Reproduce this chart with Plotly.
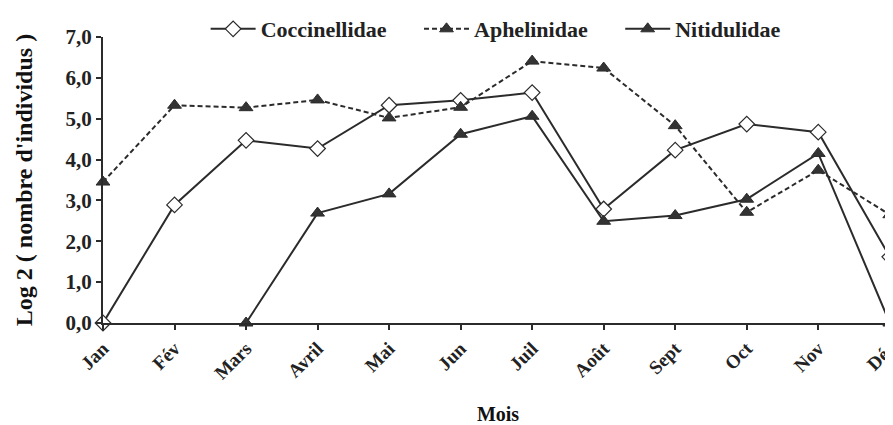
import plotly.graph_objects as go

mois = ["Jan", "Fév", "Mars", "Avril", "Mai", "Jun", "Juil", "Août", "Sept", "Oct", "Nov", "Déc"]
coccinellidae = [0.0, 2.89, 4.47, 4.27, 5.33, 5.45, 5.64, 2.79, 4.23, 4.87, 4.67, 1.62]
aphelinidae = [3.45, 5.33, 5.27, 5.46, 5.02, 5.28, 6.41, 6.24, 4.83, 2.71, 3.74, 2.65]
nitidulidae = [None, None, 0.0, 2.69, 3.16, 4.62, 5.06, 2.49, 2.63, 3.03, 4.15, 0.0]
y_ticks = [0, 1, 2, 3, 4, 5, 6, 7]

ink = "#2b2b2b"
font_main = "Liberation Serif"
gap = "&nbsp;" * 5

fig = go.Figure()
fig.add_trace(go.Scatter(
    x=mois, y=coccinellidae, name="<b>Coccinellidae</b>" + gap, mode="lines+markers",
    line=dict(color=ink, width=2),
    marker=dict(symbol="diamond", size=12, color="white", line=dict(color=ink, width=1.2)),
    cliponaxis=False,
))
fig.add_trace(go.Scatter(
    x=mois, y=aphelinidae, name="<b>Aphelinidae</b>" + gap, mode="lines+markers",
    line=dict(color=ink, width=2, dash="5px,3px"),
    marker=dict(symbol="triangle-up", size=12, color="#333333", line=dict(color=ink, width=1)),
    cliponaxis=False,
))
fig.add_trace(go.Scatter(
    x=mois, y=nitidulidae, name="<b>Nitidulidae</b>", mode="lines+markers",
    line=dict(color=ink, width=2),
    marker=dict(symbol="triangle-up", size=12, color="#333333", line=dict(color=ink, width=1)),
    cliponaxis=False, connectgaps=False,
))

# page body has an 8px margin, so the figure is drawn 8px smaller;
# top margin is 0 and the y domain leaves room for the legend so it does not push the plot
plot_h = 417 - 102
fig.update_layout(
    width=885, height=417,
    margin=dict(l=95, r=0, t=0, b=102),
    paper_bgcolor="white", plot_bgcolor="white",
    font=dict(family=font_main, color="#222222", size=14),
    legend=dict(
        orientation="h", x=0.497, xanchor="center",
        y=1.0, yanchor="top",
        font=dict(family=font_main, size=22, color="#222222"),
        itemwidth=45, tracegroupgap=0, bgcolor="rgba(0,0,0,0)",
    ),
)
fig.update_xaxes(
    type="category", range=[0, 11.045], automargin=False,
    showline=True, linecolor=ink, linewidth=2, showgrid=False, zeroline=False,
    ticks="outside", ticklen=5, tickcolor=ink, tickwidth=2,
    tickangle=-45,
    tickvals=mois, ticktext=[f"<b>{m}</b>" for m in mois],
    tickfont=dict(family=font_main, size=19, color="#222222"),
    title=dict(text="<b>Mois</b>", font=dict(family=font_main, size=20, color="#111111"), standoff=26),
)
fig.update_yaxes(
    range=[0, 7], automargin=False, domain=[0, 1 - 29 / plot_h],
    showline=True, linecolor=ink, linewidth=2, showgrid=False, zeroline=False,
    ticks="outside", ticklen=5, tickcolor=ink, tickwidth=2,
    tickvals=y_ticks, ticktext=[f"<b>{v},0</b>" for v in y_ticks],
    tickfont=dict(family=font_main, size=21, color="#222222"),
    title=dict(text="<b>Log 2 ( nombre d'individus )</b>", font=dict(family=font_main, size=24, color="#111111"), standoff=26),
)

fig.write_html("out.html")
